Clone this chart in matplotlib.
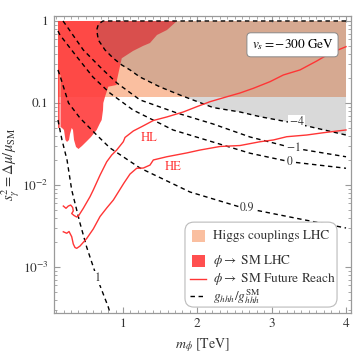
import numpy as np
import matplotlib
matplotlib.use('Agg')
import matplotlib.pyplot as plt
from matplotlib.ticker import FixedLocator, MultipleLocator, NullFormatter, FixedFormatter
from matplotlib.patches import FancyBboxPatch, Rectangle
from matplotlib.lines import Line2D

plt.rcParams['font.family'] = 'serif'
plt.rcParams['font.serif'] = ['STIXGeneral', 'Liberation Serif', 'DejaVu Serif']
plt.rcParams['mathtext.fontset'] = 'stix'

# Datos (m_phi en TeV, s^2)
higgs_low = 0.119
higgs_x = [0.125, 4.0]

lhc_x = [0.125, 1.726, 1.592, 1.457, 1.363, 1.269, 1.135, 0.983, 0.939, 0.919, 0.915,
         0.802, 0.758, 0.735, 0.731, 0.713, 0.691, 0.646, 0.569, 0.516, 0.448, 0.401,
         0.368, 0.341, 0.327, 0.310, 0.287, 0.274, 0.247, 0.226, 0.206, 0.179, 0.159,
         0.159, 0.148, 0.148, 0.125]
lhc_s = [1.0, 1.0, 0.777, 0.675, 0.539, 0.496, 0.431, 0.351, 0.232, 0.191, 0.166,
         0.158, 0.119, 0.100, 0.0821, 0.0620, 0.0570, 0.0469, 0.0385, 0.0344, 0.0299, 0.0275,
         0.0291, 0.0354, 0.0469, 0.0496, 0.0419, 0.0354, 0.0335, 0.0354, 0.0469, 0.0496, 0.0510,
         0.219, 0.219, 0.0496, 0.0496]

# contornos g_hhh / g_hhh^SM
m4_x = [4.0, 0.731, 0.670, 0.646, 0.668, 0.758, 0.870, 0.983, 1.094, 1.229, 1.498,
        1.767, 2.211, 2.574, 2.843, 3.202, 3.516, 4.0]
m4_s = [1.0, 1.0, 0.919, 0.777, 0.586, 0.443, 0.351, 0.291, 0.253, 0.207, 0.157,
        0.125, 0.0880, 0.0777, 0.0681, 0.0591, 0.0514, 0.0407]
m1_x = [0.193, 0.260, 0.466, 0.691, 0.919, 1.229, 1.726, 2.211, 2.709, 3.287, 4.0]
m1_s = [1.0, 0.822, 0.443, 0.275, 0.175, 0.109, 0.0755, 0.0555, 0.0385, 0.0283, 0.0221]
c0_x = [0.125, 0.152, 0.381, 0.596, 0.825, 1.135, 1.673, 2.709, 3.247, 4.0]
c0_s = [0.755, 0.675, 0.364, 0.207, 0.132, 0.0821, 0.0469, 0.0244, 0.0192, 0.0160]
c09_x = [0.125, 0.162, 0.267, 0.421, 0.646, 0.825, 1.229, 1.901, 2.574, 3.381, 4.0]
c09_s = [0.253, 0.202, 0.100, 0.0656, 0.0407, 0.0283, 0.0161, 0.00822, 0.00539, 0.00385, 0.00299]
c1_x = [0.125, 0.179, 0.247, 0.310, 0.421, 0.512, 0.646, 0.802, 0.839]
c1_s = [0.0620, 0.0354, 0.0202, 0.00869, 0.00344, 0.00174, 0.000755, 0.000325, 0.000251]

contour_labels = ['$-4$', '$-1$', '0', '0.9', '1']
label_x = [3.337, 3.287, 3.247, 2.668, 0.664]
label_s = [0.0587, 0.0283, 0.0191, 0.00524, 0.000734]

# alcance futuro
hl_x = [0.197, 0.233, 0.264, 0.296, 0.323, 0.331, 0.310, 0.341, 0.377, 0.399, 0.466,
        0.556, 0.600, 0.691, 0.781, 0.848, 0.915, 1.004, 1.027, 1.139, 1.256, 1.408,
        1.588, 1.811, 1.992, 2.170, 2.395, 2.574, 2.753, 2.978, 3.157, 3.381, 3.606,
        3.785, 4.0]
hl_s = [0.00554, 0.00520, 0.00554, 0.00570, 0.00532, 0.00482, 0.00449, 0.00425, 0.00407,
        0.00417, 0.00520, 0.00720, 0.00869, 0.0132, 0.0192, 0.0232, 0.0267, 0.0337, 0.0380,
        0.0456, 0.0517, 0.0612, 0.0675, 0.0777, 0.0901, 0.1037, 0.119, 0.1324, 0.151, 0.182,
        0.2196, 0.253, 0.325, 0.404, 0.486]
he_x = [0.197, 0.243, 0.274, 0.310, 0.331, 0.354, 0.377, 0.421, 0.512, 0.600, 0.691,
        0.781, 0.870, 1.013, 1.094, 1.184, 1.273, 1.363, 1.408, 1.588, 1.857, 2.036,
        2.305, 2.574, 2.843, 3.022, 3.202, 3.471, 3.695, 4.0]
he_s = [0.00269, 0.00258, 0.00271, 0.00234, 0.00191, 0.00173, 0.00169, 0.00180, 0.00223,
        0.00291, 0.00413, 0.00525, 0.00656, 0.01058, 0.0136, 0.0160, 0.0161, 0.0175, 0.0202,
        0.0221, 0.0246, 0.0267, 0.0295, 0.0303, 0.0337, 0.0354, 0.0388, 0.0407, 0.0434, 0.0469]

peach = '#fabfa0'
red = '#ff3c3c'
line_red = '#ff3535'

fig = plt.figure(figsize=(3.6, 3.54), dpi=100)
ax = fig.add_axes([0.15, 0.1158, 0.825, 0.839])

ax.fill_between(higgs_x, higgs_low, 1.0, color=peach, lw=0, zorder=1)
ax.fill(lhc_x, lhc_s, color=red, alpha=0.9, lw=0, zorder=2)
ax.fill(m4_x, m4_s, color='#646464', alpha=0.24, lw=0, zorder=3)

dash = dict(color='k', lw=1.0, ls=(0, (3.2, 2.6)), zorder=4)
for xs, ss in [(m4_x, m4_s), (m1_x, m1_s), (c0_x, c0_s), (c09_x, c09_s), (c1_x, c1_s)]:
    ax.plot(xs, ss, **dash)

for t, lx, ls in zip(contour_labels, label_x, label_s):
    ax.text(lx, ls, t, fontsize=8.5, ha='center', va='center', color='#333333', zorder=5,
            bbox=dict(facecolor='white', edgecolor='none', pad=0.6))

ax.plot(hl_x, hl_s, color=line_red, lw=1.0, zorder=6)
ax.plot(he_x, he_s, color=line_red, lw=1.0, zorder=6)
ax.text(1.35, 0.0374, 'HL', color=line_red, fontsize=9, ha='center', va='center', zorder=6)
ax.text(1.669, 0.0167, 'HE', color=line_red, fontsize=9, ha='center', va='center', zorder=6)

ax.set_yscale('log')
ax.set_xlim(0.0717, 4.067)
ax.set_ylim(2.75e-4, 1.15)

ax.xaxis.set_major_locator(FixedLocator([1, 2, 3, 4]))
ax.xaxis.set_minor_locator(MultipleLocator(0.1))
ax.set_xticklabels(['1', '2', '3', '4'])
ax.yaxis.set_major_locator(FixedLocator([1e-3, 1e-2, 1e-1, 1]))
ax.yaxis.set_major_formatter(FixedFormatter(['$10^{-3}$', '$10^{-2}$', '0.1', '1']))
minors = [m * 10.0 ** e for e in range(-4, 1) for m in range(2, 10)]
ax.yaxis.set_minor_locator(FixedLocator(minors))
ax.yaxis.set_minor_formatter(NullFormatter())

for sp in ax.spines.values():
    sp.set_color('#9a9a9a')
    sp.set_linewidth(0.9)
ax.tick_params(which='both', direction='in', top=True, right=True, color='#9a9a9a',
               labelsize=9.5, labelcolor='#333333')
ax.tick_params(which='major', length=4.5, width=0.8, pad=4)
ax.tick_params(which='minor', length=2.3, width=0.6)

ax.set_xlabel(r'$m_\phi$ [TeV]', fontsize=10, color='#333333', labelpad=4)
ax.set_ylabel(r'$s_\gamma^2 = \Delta\mu/\mu_{\rm SM}$', fontsize=10.5, color='#333333')
ax.yaxis.set_label_coords(-0.108, 0.5)

ax.text(0.803, 0.903, r'$v_s = -300$ GeV', transform=ax.transAxes, fontsize=9.5,
        ha='center', va='center', zorder=8,
        bbox=dict(boxstyle='round,pad=0.35,rounding_size=0.3', facecolor='white',
                  edgecolor='#888888', lw=0.7))

# leyenda a mano
leg = FancyBboxPatch((0.441, 0.020), 0.512, 0.286, transform=ax.transAxes,
                     boxstyle='round,pad=0,rounding_size=0.03', facecolor='white',
                     edgecolor='#bbbbbb', lw=0.8, zorder=8)
ax.add_patch(leg)
rows = [0.259, 0.175, 0.113, 0.057]
labels = ['Higgs couplings LHC', r'$\phi \to$ SM LHC', r'$\phi \to$ SM Future Reach',
          r'$g_{hhh}/g_{hhh}^{\rm SM}$']
ax.add_patch(Rectangle((0.463, rows[0] - 0.021), 0.045, 0.042, transform=ax.transAxes,
                       facecolor=peach, lw=0, zorder=9))
ax.add_patch(Rectangle((0.463, rows[1] - 0.021), 0.045, 0.042, transform=ax.transAxes,
                       facecolor=red, alpha=0.9, lw=0, zorder=9))
ax.add_line(Line2D([0.458, 0.512], [rows[2]] * 2, transform=ax.transAxes, color=line_red,
                   lw=1.0, zorder=9))
ax.add_line(Line2D([0.458, 0.512], [rows[3]] * 2, transform=ax.transAxes, color='k',
                   lw=1.0, ls=(0, (3.2, 2.6)), zorder=9))
for r, t in zip(rows, labels):
    ax.text(0.535, r, t, transform=ax.transAxes, fontsize=9.5, ha='left', va='center',
            color='#333333', zorder=9)

fig.savefig('out.png', dpi=100)
